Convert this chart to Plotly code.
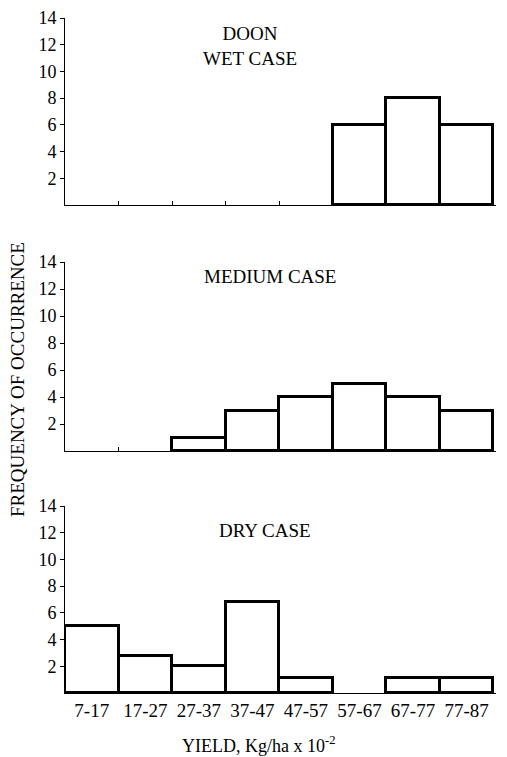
import plotly.graph_objects as go

bins = ["7-17", "17-27", "27-37", "37-47", "47-57", "57-67", "67-77", "77-87"]
wet = [0, 0, 0, 0, 0, 6, 8, 6]
medium = [0, 0, 1, 3, 4, 5, 4, 3]
dry = [5, 2.8, 2, 6.8, 1.1, 0, 1.1, 1.1]
y_ticks = [2, 4, 6, 8, 10, 12, 14]
panel_titles = ["DOON<br>WET CASE", "MEDIUM CASE", "DRY CASE"]

FONT = "Liberation Serif"
OFF = 8  # page body margin
VISIBLE_RIGHT = 496
W, H = VISIBLE_RIGHT - OFF, 757 - OFF
PL, PR, PT, PB = 65, VISIBLE_RIGHT, 18, 693
L, R, T, B = PL - OFF, 0, PT - OFF, H - (PB - OFF)
pw, ph = W - L - R, H - T - B

def px_x(p):
    return (p - PL) / pw

def px_y(p):
    return (PB - p) / ph

centers = list(range(len(bins)))
edges = [i + 0.5 for i in range(len(bins) - 1)]

fig = go.Figure()
series = [wet, medium, dry]
names = ["", "2", "3"]
for vals, n in zip(series, names):
    fig.add_trace(go.Bar(
        x=centers, y=vals, xaxis="x" + n, yaxis="y" + n, width=1,
        marker=dict(color="white",
                    line=dict(color="black", width=[3 if v > 0 else 0 for v in vals])),
        showlegend=False, hoverinfo="skip"))

doms = [(205, 18), (451, 262), (693, 506)]
layout = dict(
    width=W, height=H, margin=dict(l=L, r=R, t=T, b=B, autoexpand=False),
    plot_bgcolor="white", paper_bgcolor="white", bargap=0,
    font=dict(family=FONT, color="black"),
)
for i, n in enumerate(names):
    bot, top = doms[i]
    last = (i == 2)
    layout["xaxis" + n] = dict(
        domain=[0, 1], anchor="y" + n, range=[-0.5, 7.55],
        showline=True, linecolor="black", linewidth=1, showgrid=False, zeroline=False,
        tickvals=centers, ticktext=bins, ticks="", showticklabels=last,
        tickfont=dict(family=FONT, size=19, color="black"),
        minor=dict(tickvals=edges, ticks="inside", ticklen=4, tickcolor="black", tickwidth=1),
        fixedrange=True,
    )
    layout["yaxis" + n] = dict(
        domain=[px_y(bot), px_y(top)], anchor="x" + n, range=[0, 14],
        showline=True, linecolor="black", linewidth=1, showgrid=False, zeroline=False,
        tickvals=y_ticks, ticks="outside", ticklen=4, tickcolor="black",
        tickfont=dict(family=FONT, size=18, color="black"),
        fixedrange=True,
    )
fig.update_layout(**layout)

ann_pos = [(250, 46), (270, 277), (265, 530)]
for txt, (ax, ay) in zip(panel_titles, ann_pos):
    fig.add_annotation(x=px_x(ax), y=px_y(ay), xref="paper", yref="paper", text=txt,
                       showarrow=False, xanchor="center", yanchor="middle",
                       font=dict(family=FONT, size=19, color="black"))

fig.add_annotation(x=px_x(17), y=px_y(380), xref="paper", yref="paper",
                   text="FREQUENCY OF OCCURRENCE", textangle=-90, showarrow=False,
                   xanchor="center", yanchor="middle",
                   font=dict(family=FONT, size=19, color="black"))
fig.add_annotation(x=px_x(258), y=px_y(744), xref="paper", yref="paper",
                   text="YIELD, Kg/ha x 10<sup>-2</sup>", showarrow=False,
                   xanchor="center", yanchor="middle",
                   font=dict(family=FONT, size=18, color="black"))

fig.write_html("out.html")
